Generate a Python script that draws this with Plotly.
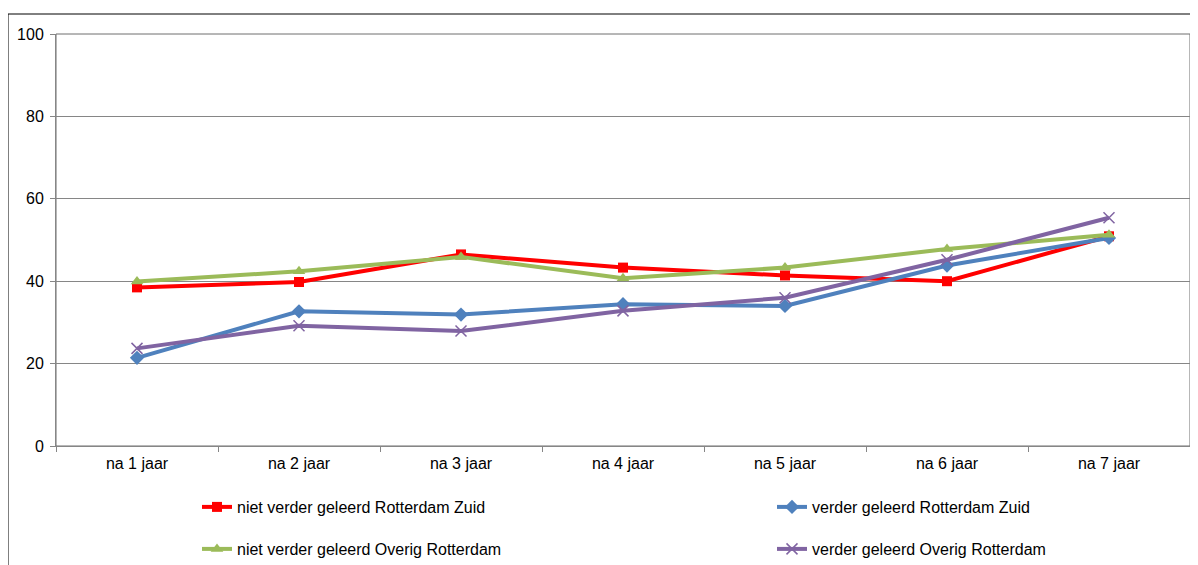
import plotly.graph_objects as go

categories = ["na 1 jaar", "na 2 jaar", "na 3 jaar", "na 4 jaar", "na 5 jaar", "na 6 jaar", "na 7 jaar"]
niet_zuid = [38.5, 39.8, 46.5, 43.3, 41.4, 40.0, 50.9]
verder_zuid = [21.4, 32.7, 31.9, 34.4, 34.0, 43.8, 50.5]
niet_overig = [39.9, 42.4, 45.9, 40.7, 43.3, 47.8, 51.3]
verder_overig = [23.7, 29.2, 27.9, 32.8, 36.0, 45.2, 55.4]

names = ["niet verder geleerd Rotterdam Zuid", "verder geleerd Rotterdam Zuid",
         "niet verder geleerd Overig Rotterdam", "verder geleerd Overig Rotterdam"]

FONT = "Liberation Sans, Arial, sans-serif"
FS = 16
fig = go.Figure()

fig.add_trace(go.Scatter(x=categories, y=niet_zuid, name=names[0], mode="lines+markers",
                         line=dict(color="#FF0000", width=4),
                         marker=dict(symbol="square", size=10, color="#FF0000"),
                         legend="legend"))
fig.add_trace(go.Scatter(x=categories, y=verder_zuid, name=names[1], mode="lines+markers",
                         line=dict(color="#4F81BD", width=4),
                         marker=dict(symbol="diamond", size=11, color="#4F81BD"),
                         legend="legend2"))
fig.add_trace(go.Scatter(x=categories, y=niet_overig, name=names[2], mode="lines+markers",
                         line=dict(color="#9BBB59", width=4),
                         marker=dict(symbol="triangle-up", size=11, color="#9BBB59"),
                         legend="legend3"))
fig.add_trace(go.Scatter(x=categories, y=verder_overig, name=names[3], mode="lines+markers",
                         line=dict(color="#8064A2", width=4),
                         marker=dict(symbol="x-thin", size=11, color="#8064A2",
                                     line=dict(color="#8064A2", width=1.5)),
                         legend="legend4"))

# page body adds an 8px offset; figure coordinates = reference pixels - 8
W, H = 1190, 557
L, R, T, B = 48, 8, 26, 119
pw, ph = W - L - R, H - T - B

def px_x(x):
    return (x - L) / pw

def px_y(y):
    return (H - B - y) / ph

# outer chart border
fig.add_shape(type="rect", xref="paper", yref="paper",
              x0=px_x(0), x1=px_x(1189), y0=px_y(570), y1=px_y(6),
              line=dict(color="#000000", width=1), layer="below")
# plot area border
fig.add_shape(type="rect", xref="paper", yref="paper", x0=0, x1=1, y0=0, y1=1,
              line=dict(color="#6E6E6E", width=1), layer="below")

legend_common = dict(orientation="h",
                     font=dict(family=FONT, size=FS, color="#000000"),
                     bgcolor="rgba(0,0,0,0)", xanchor="left", yanchor="middle",
                     itemwidth=30)

fig.update_layout(
    width=W, height=H,
    margin=dict(l=L, r=R, t=T, b=B, autoexpand=False),
    paper_bgcolor="white", plot_bgcolor="white",
    font=dict(family=FONT, size=FS, color="#000000"),
    showlegend=True,
    legend=dict(x=px_x(189), y=px_y(499), **legend_common),
    legend2=dict(x=px_x(764), y=px_y(499), **legend_common),
    legend3=dict(x=px_x(189), y=px_y(541), **legend_common),
    legend4=dict(x=px_x(764), y=px_y(541), **legend_common),
    xaxis=dict(type="category", range=[-0.5, 6.5], showgrid=False,
               showline=True, linecolor="#868686", linewidth=1,
               ticks="outside", tickson="boundaries", ticklen=5, tickcolor="#868686",
               ticklabelstandoff=3,
               tickfont=dict(family=FONT, size=FS, color="#000000"), fixedrange=True),
    yaxis=dict(range=[0, 100], dtick=20, showgrid=True, gridcolor="#868686", gridwidth=1,
               showline=True, linecolor="#868686", linewidth=1, zeroline=False,
               ticks="outside", ticklen=5, tickcolor="#868686", ticklabelstandoff=3,
               tickfont=dict(family=FONT, size=FS, color="#000000"), fixedrange=True),
)

fig.write_html("out.html")
